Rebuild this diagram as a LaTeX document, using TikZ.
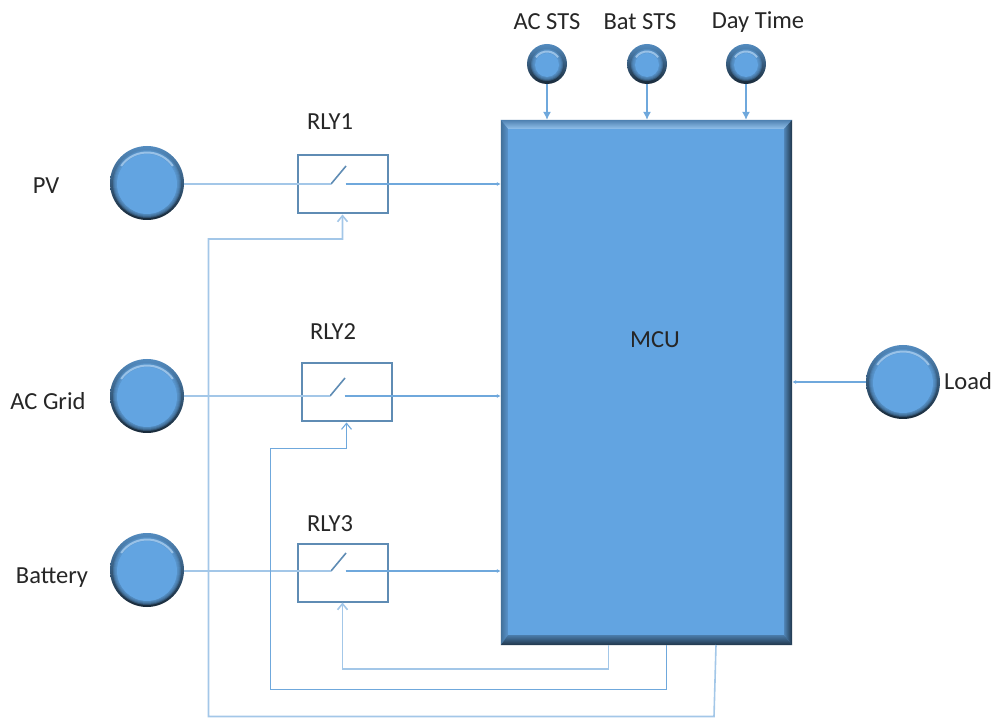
\documentclass[tikz,border=0pt]{standalone}
\usepackage{fontspec}
\setmainfont{Carlito}
\usetikzlibrary{arrows,arrows.meta,positioning}
\definecolor{face}{HTML}{62A4E1}
\definecolor{wire}{HTML}{6FA8DC}
\definecolor{wirepale}{HTML}{A3C7E8}
\definecolor{relayline}{HTML}{5F8CB4}
\tikzset{
  basic/.style  = {font=\fontsize{24.5}{28}\selectfont, text=black!85, inner sep=0pt},
  ball/.style 2 args = {circle, minimum size=#1, inner sep=0pt,
                   top color=face!85!black, middle color=face!80!black, bottom color=face!25!black,
                   path picture={
                     \foreach \value in {4,3,...,1}
                       \fill[face, opacity=0.3] ([shift={(0,1)}]path picture bounding box.center) circle (#2+\value*1pt);
                     \fill[face] ([shift={(0,1)}]path picture bounding box.center) circle (#2);
                     \draw[face!55!white, line width=2pt, opacity=0.8] ([shift={(0,1)}]path picture bounding box.center) ++(145:#2+1.5pt) arc (145:35:#2+1.5pt);}},
  bigball/.style = {ball={74pt}{30pt}},
  smallball/.style = {ball={40pt}{12pt}},
  relay/.style  = {draw=relayline, line width=2pt, minimum width=90pt, minimum height=58pt, inner sep=0pt},
  contact/.style = {draw=relayline, line width=1.6pt},
  mainline/.style = {draw=wire, line width=1.1pt, -{Latex[length=4pt,width=4pt]}},
  feed/.style   = {draw=wirepale, line width=2.2pt},
  ctrl/.style   = {draw=wire, line width=1.1pt, -{Straight Barb[length=6pt,width=10pt]}},
  ctrlpale/.style = {ctrl, draw=wirepale, line width=1.6pt}
}
\begin{document}
\begin{tikzpicture}[x=1pt, y=-1pt, >=latex]
  \useasboundingbox (0,0) rectangle (997,719);

  % the controller and its bevelled edges
  \node[minimum width=291pt, minimum height=525pt, inner sep=0pt, fill=face] (mcu) at (646.5,382.5) {};
  \coordinate (in nw) at ([shift={(7,9)}]mcu.north west);
  \coordinate (in ne) at ([shift={(-8,9)}]mcu.north east);
  \coordinate (in sw) at ([shift={(7,-10)}]mcu.south west);
  \coordinate (in se) at ([shift={(-8,-10)}]mcu.south east);
  \shade[top color=face!78!black, bottom color=face!70!white] (mcu.north west) -- (mcu.north east) -- (in ne) -- (in nw) -- cycle;
  \shade[left color=face!68!black, right color=face!90!black] (mcu.north west) -- (in nw) -- (in sw) -- (mcu.south west) -- cycle;
  \shade[left color=face!80!black, right color=face!32!black] (mcu.north east) -- (in ne) -- (in se) -- (mcu.south east) -- cycle;
  \shade[top color=face!75!black, bottom color=face!32!black] (mcu.south west) -- (in sw) -- (in se) -- (mcu.south east) -- cycle;
  \node[basic] (mcutext) at (655,340) {MCU};

  % sources on the left, load on the right
  \node[bigball] (pv) at (147,183) {};
  \node[bigball] (grid) at (147,396) {};
  \node[bigball] (bat) at (147,570) {};
  \node[bigball] (load) at (903,382) {};
  \node[basic] (pvtext) at (46,186) {PV};
  \node[basic] (gridtext) at (48,401) {AC Grid};
  \node[basic] (battext) at (52,578) {Battery};
  \node[basic] (loadtext) at (968,381) {Load};

  % status inputs on top
  \node[smallball] (acsts) at (547,64) {};
  \node[smallball] (batsts) at (647,64) {};
  \node[smallball] (daytime) at (746,64) {};
  \node[basic] (acststext) at (547,22) {AC STS};
  \node[basic] (batststext) at (640,22) {Bat STS};
  \node[basic] (daytimetext) at (758,22) {Day Time};

  % relays
  \node[relay] (rly1) at (342.5,184.5) {};
  \node[relay] (rly2) at (346.5,392.5) {};
  \node[relay] (rly3) at (342.5,572.5) {};
  \node[basic] (rly1text) at (330,122) {RLY1};
  \node[basic] (rly2text) at (333,332) {RLY2};
  \node[basic] (rly3text) at (330,524) {RLY3};

  % switch inside each relay
  \foreach \value/\dx/\dy in {1/-11.5/-0.5, 2/-16.5/3.5, 3/-11.5/-1.5} {
    \coordinate (sw\value a) at ([shift={(\dx,\dy)}]rly\value.center);
    \coordinate (sw\value b) at ([shift={(\dx+15,\dy-18)}]rly\value.center);
    \coordinate (sw\value c) at ([shift={(\dx+14.5,\dy)}]rly\value.center);
    \draw[contact] (sw\value a) -- (sw\value b);
  }

  % lines from the sources through the relays to the controller
  \draw[feed] (pv.east |- sw1a) -- (sw1a);
  \draw[feed] (grid.east |- sw2a) -- (sw2a);
  \draw[feed] (bat.east |- sw3a) -- (sw3a);
  \foreach \value in {1,2,3}
    \draw[mainline] (sw\value c) -- (sw\value c -| mcu.west);
  \draw[mainline] (load.west) -- (load.west -| mcu.east);

  % status lines
  \foreach \value in {acsts,batsts,daytime}
    \draw[mainline, -{Latex[length=8pt,width=8pt]}] (\value.south) -- (\value.south |- mcu.north);

  % control lines from the controller back to the relays
  \coordinate (ctl3) at (608.5,645);
  \coordinate (ctl2) at (666.5,645);
  \coordinate (ctl1) at (716,645);
  \draw[ctrlpale] (ctl3) -- (608.5,669) -- (342.5,669) -- (rly3.south);
  \draw[ctrl] (ctl2) -- (666.5,689.5) -- (270.5,689.5) -- (270.5,448.5) -- (rly2.south |- 0,448.5) -- (rly2.south);
  \draw[ctrlpale] (ctl1) -- (714,716.5) -- (208.5,716.5) -- (208.5,239) -- (rly1.south |- 0,239) -- (rly1.south);
\end{tikzpicture}
\end{document}
